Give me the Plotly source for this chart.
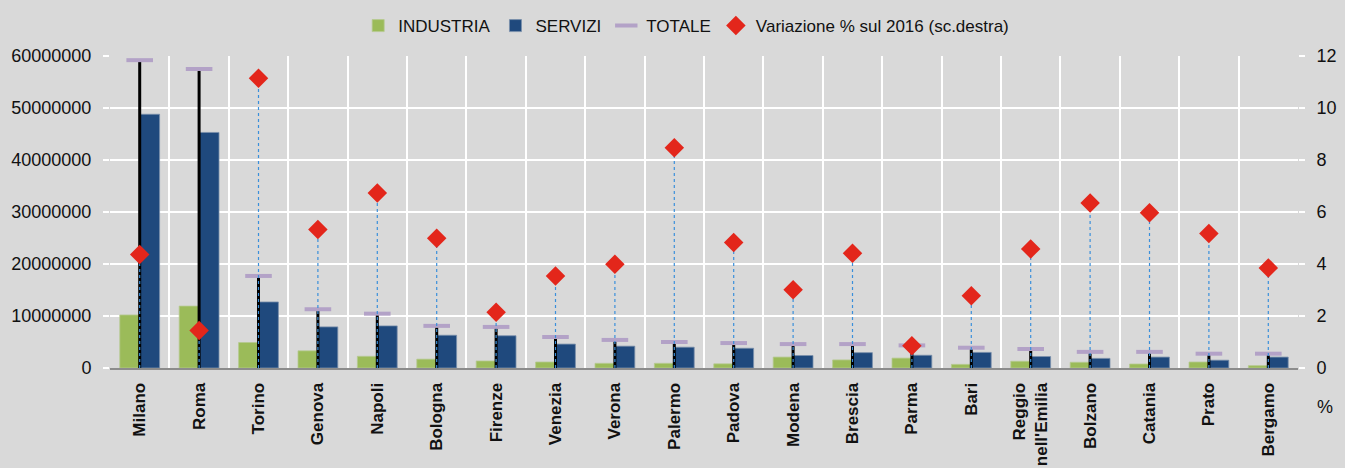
import plotly.graph_objects as go

cities = ["Milano", "Roma", "Torino", "Genova", "Napoli", "Bologna", "Firenze", "Venezia",
          "Verona", "Palermo", "Padova", "Modena", "Brescia", "Parma", "Bari",
          "Reggio<br>nell'Emilia", "Bolzano", "Catania", "Prato", "Bergamo"]
industria = [10200000, 11900000, 4900000, 3300000, 2250000, 1700000, 1350000, 1150000, 900000, 900000,
             800000, 2100000, 1550000, 1900000, 700000, 1300000, 1100000, 770000, 1150000, 450000]
servizi = [48800000, 45300000, 12700000, 7900000, 8100000, 6300000, 6200000, 4600000, 4200000, 4000000,
           3800000, 2400000, 2950000, 2450000, 3000000, 2200000, 1850000, 2100000, 1500000, 2100000]
totale = [59200000, 57500000, 17700000, 11300000, 10450000, 8100000, 7900000, 5960000, 5400000, 5000000,
          4800000, 4600000, 4600000, 4350000, 3900000, 3650000, 3100000, 3100000, 2750000, 2750000]
variazione = [4.37, 1.44, 11.14, 5.33, 6.73, 4.99, 2.14, 3.54, 3.99, 8.47,
              4.83, 3.01, 4.41, 0.86, 2.78, 4.58, 6.35, 5.97, 5.17, 3.85]

FONT = "Liberation Sans"
TXT = "#111111"

# vertical segment helpers built from the data arrays
seg_x, seg_y = [], []
for c, t in zip(cities, totale):
    seg_x += [c, c, None]
    seg_y += [0, t, None]
drop_x, drop_y = [], []
for c, v in zip(cities, variazione):
    drop_x += [c, c, None]
    drop_y += [0, v, None]

fig = go.Figure()
fig.add_trace(go.Bar(x=cities, y=industria, name="INDUSTRIA",
                     marker=dict(color="#9BBB59", line=dict(color="#b5c98f", width=0.8))))
fig.add_trace(go.Bar(x=cities, y=servizi, name="SERVIZI",
                     marker=dict(color="#1F497D", line=dict(color="#7a8fab", width=0.8))))
fig.add_trace(go.Scatter(x=seg_x, y=seg_y, mode="lines", showlegend=False,
                         line=dict(color="black", width=3), hoverinfo="skip"))
fig.add_trace(go.Scatter(x=cities, y=totale, mode="markers", name="TOTALE",
                         marker=dict(symbol="line-ew", size=19,
                                     line=dict(color="#B3A2C7", width=4))))
fig.add_trace(go.Scatter(x=drop_x, y=drop_y, mode="lines", showlegend=False, yaxis="y2",
                         line=dict(color="#3A8FDB", width=1.2, dash="dot"), hoverinfo="skip"))
fig.add_trace(go.Scatter(x=cities, y=variazione, mode="markers", yaxis="y2",
                         name="Variazione % sul 2016 (sc.destra)",
                         marker=dict(symbol="diamond", size=15, color="#E3261B",
                                     line=dict(width=0))))

fig.update_layout(
    template="none",
    width=1345, height=468,
    paper_bgcolor="#D9D9D9", plot_bgcolor="#D9D9D9",
    margin=dict(l=110, r=47, t=56, b=100, autoexpand=False),
    font=dict(family=FONT, color=TXT),
    barmode="group", bargap=0.33, bargroupgap=0,
    showlegend=True,
    legend=dict(orientation="h", x=0.485, xanchor="center", y=1.096, yanchor="middle",
                font=dict(size=17, family=FONT, color=TXT), bgcolor="rgba(0,0,0,0)",
                itemwidth=30, traceorder="normal"),
    xaxis=dict(type="category", range=[-0.5, len(cities) - 0.5], tickson="boundaries",
               showgrid=True, gridcolor="white",
               gridwidth=2, tickangle=-90, ticks="", ticklabelstandoff=6, automargin=False,
               tickfont=dict(size=17, family=FONT, weight="bold", color=TXT),
               showline=True, linecolor="#8C8C8C", linewidth=2, zeroline=False),
    yaxis=dict(range=[0, 60000000], dtick=10000000, tickformat="d", showgrid=True,
               gridcolor="white", gridwidth=2, ticks="outside", ticklen=6, tickwidth=2,
               tickcolor="white", ticklabelstandoff=8, zeroline=False, automargin=False,
               showline=False, tickfont=dict(size=18, family=FONT, color=TXT)),
    yaxis2=dict(range=[0, 12], dtick=2, overlaying="y", side="right", showgrid=False,
                ticks="outside", ticklen=6, tickwidth=2, tickcolor="white", automargin=False,
                ticklabelstandoff=8, zeroline=False, showline=False,
                tickfont=dict(size=18, family=FONT, color=TXT)),
    annotations=[dict(text="%", xref="paper", yref="paper", x=1.0227, y=-0.125,
                      xanchor="center", yanchor="middle", showarrow=False,
                      font=dict(size=18, family=FONT, color=TXT))],
)

fig.write_html("out.html", config={"displayModeBar": False})
with open("out.html", encoding="utf-8") as f:
    html = f.read()
html = html.replace("<body>", '<body style="margin:0;overflow:hidden;">', 1)
with open("out.html", "w", encoding="utf-8") as f:
    f.write(html)
